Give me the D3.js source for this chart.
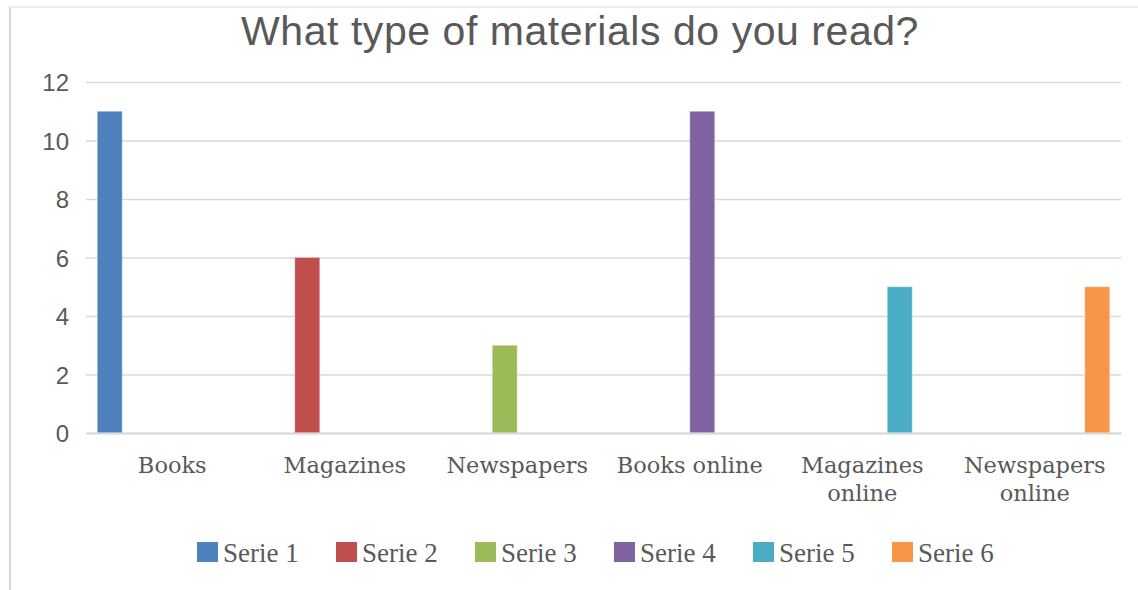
<!DOCTYPE html>
<html>
<head>
<meta charset="utf-8">
<script src="https://cdn.jsdelivr.net/npm/d3@7"></script>
<style>
  html, body { margin: 0; padding: 0; background: #fff; }
  svg { display: block; }
</style>
</head>
<body>
<svg id="chart" width="1138" height="590"></svg>
<script>
// Survey answers: one series per material type
const categories = [["Books"], ["Magazines"], ["Newspapers"], ["Books online"], ["Magazines", "online"], ["Newspapers", "online"]];
const seriesNames = ["Serie 1", "Serie 2", "Serie 3", "Serie 4", "Serie 5", "Serie 6"];
const serie1 = [11, 0, 0, 0, 0, 0];
const serie2 = [0, 6, 0, 0, 0, 0];
const serie3 = [0, 0, 3, 0, 0, 0];
const serie4 = [0, 0, 0, 11, 0, 0];
const serie5 = [0, 0, 0, 0, 5, 0];
const serie6 = [0, 0, 0, 0, 0, 5];
const yTicks = [0, 2, 4, 6, 8, 10, 12];
const colors = ["#4F81BD", "#C0504D", "#9BBB59", "#8064A2", "#4BACC6", "#F79646"];
const titleText = "What type of materials do you read?";

const seriesValues = [serie1, serie2, serie3, serie4, serie5, serie6];
const catKeys = categories.map(c => c.join(" "));

const svg = d3.select("#chart");
const plot = { left: 86, right: 1121, top: 82, bottom: 433 };
const grey = "#595959";

// outer frame (left and top edges)
svg.append("line").attr("x1", 10).attr("x2", 10).attr("y1", 7).attr("y2", 590)
  .attr("stroke", "#d9d9d9").attr("stroke-width", 2);
svg.append("line").attr("x1", 10).attr("x2", 1138).attr("y1", 7).attr("y2", 7)
  .attr("stroke", "#e6e6e6").attr("stroke-width", 1.5);

const x0 = d3.scaleBand().domain(catKeys).range([plot.left, plot.right]).paddingInner(0).paddingOuter(0);
const x1 = d3.scaleBand().domain(seriesNames).range([0, x0.bandwidth()]).paddingInner(0).paddingOuter(0.45);
const y = d3.scaleLinear().domain([0, 12]).range([plot.bottom, plot.top]);

// title
svg.append("text")
  .attr("x", 580).attr("y", 45)
  .attr("text-anchor", "middle")
  .attr("font-family", "'Liberation Sans', Arial, sans-serif")
  .attr("font-size", 41)
  .attr("letter-spacing", 0.55)
  .attr("fill", grey)
  .text(titleText);

// horizontal grid + y labels
const yAxis = d3.axisLeft(y).tickValues(yTicks).tickSize(-(plot.right - plot.left)).tickPadding(17);
const gy = svg.append("g").attr("transform", `translate(${plot.left},0)`).call(yAxis);
gy.select(".domain").remove();
gy.selectAll(".tick line").attr("stroke", "#d9d9d9").attr("stroke-width", 1.5);
gy.selectAll(".tick text")
  .attr("font-family", "'Liberation Sans', Arial, sans-serif")
  .attr("font-size", 24)
  .attr("fill", grey)
  .attr("dy", "0.36em");

// bars
const barData = [];
seriesValues.forEach((vals, si) => {
  vals.forEach((v, ci) => {
    if (v > 0) barData.push({ s: seriesNames[si], c: catKeys[ci], v, color: colors[si] });
  });
});
svg.append("g").selectAll("rect").data(barData).join("rect")
  .attr("x", d => x0(d.c) + x1(d.s))
  .attr("width", x1.bandwidth())
  .attr("y", d => y(d.v))
  .attr("height", d => y(0) - y(d.v))
  .attr("fill", d => d.color)
  .attr("stroke", "rgba(255,255,255,0.35)")
  .attr("stroke-width", 1);

// category axis
const xAxis = d3.axisBottom(x0).tickSize(0).tickFormat("");
const gx = svg.append("g").attr("transform", `translate(0,${plot.bottom})`).call(xAxis);
gx.select(".domain").attr("stroke", "#d9d9d9").attr("stroke-width", 2);
gx.selectAll(".tick").each(function(key, i) {
  const t = d3.select(this).append("text")
    .attr("text-anchor", "middle")
    .attr("font-family", "'DejaVu Serif', serif")
    .attr("font-size", 22.5)
    .attr("fill", grey);
  categories[i].forEach((line, li) => {
    t.append("tspan").attr("x", 0).attr("y", 40 + li * 28).text(line);
  });
});

// legend
const legend = svg.append("g");
const lx = d3.scalePoint().domain(seriesNames).range([197, 197 + 5 * 139]);
const items = legend.selectAll("g").data(seriesNames).join("g")
  .attr("transform", d => `translate(${lx(d)},542)`);
items.append("rect").attr("width", 21).attr("height", 20)
  .attr("fill", (d, i) => colors[i]);
items.append("text")
  .attr("x", 26).attr("y", 20)
  .attr("font-family", "'Liberation Serif', 'Times New Roman', serif")
  .attr("font-size", 27)
  .attr("fill", grey)
  .text(d => d);
</script>
</body>
</html>
